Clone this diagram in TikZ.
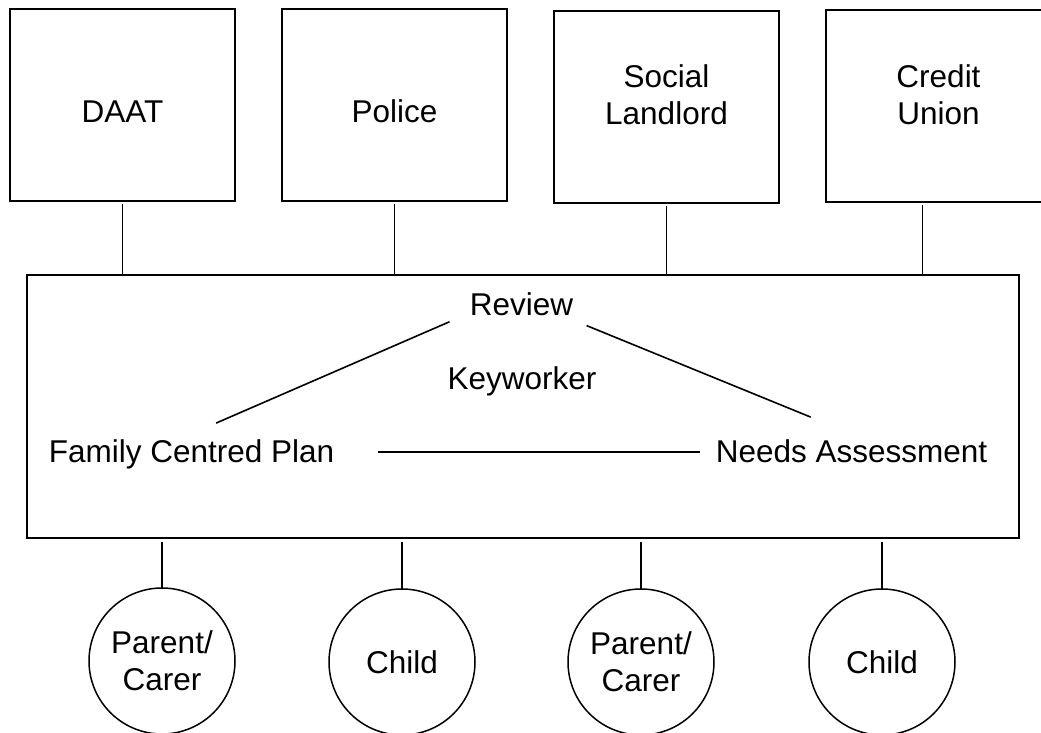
\documentclass[tikz,border=0pt]{standalone}
\usepackage{fontspec}
\setmainfont{Liberation Sans}
\begin{document}
\begin{tikzpicture}[x=0.5pt,y=-0.5pt,
    every node/.style={font=\fontsize{15.75}{18.5}\selectfont},
    agency/.style={draw,line width=1pt,minimum width=112.5pt,minimum height=96pt,outer sep=0pt},
    person/.style={draw,circle,line width=0.75pt,minimum size=73pt,inner sep=0pt,align=center,outer sep=0pt},
    lbl/.style={inner sep=3pt,anchor=base},
    link/.style={line width=0.8pt}]
  \useasboundingbox (0,0) rectangle (1041,733);
  % partner agencies
  \node[agency,label={[yshift=-3.5pt]center:DAAT}] (daat) at (122.5,105) {};
  \node[agency,label={[yshift=-3pt]center:Police}] (police) at (394.5,105.5) {};
  \node[agency,label={[yshift=6pt,align=center]center:Social\\Landlord}] (landlord) at (666.5,107) {};
  \node[agency,label={[yshift=6pt,align=center]center:Credit\\Union}] (credit) at (938.5,106.5) {};
  % keyworker box
  \node[draw,line width=1pt,minimum width=496pt,minimum height=131.5pt,outer sep=0pt] (hub) at (523,406.5) {};
  \node[lbl] (rev) at (521.5,316) {Review};
  \node[lbl] (kw) at (522,390) {Keyworker};
  \node[lbl] (fcp) at (191.5,463) {Family Centred Plan};
  \node[lbl] (na) at (851.5,463) {Needs Assessment};
  \draw[link,shorten <=7.6pt,shorten >=13.4pt] ([yshift=3.5pt]rev.south west) -- (fcp.north);
  \draw[link,shorten <=3.8pt,shorten >=22pt] (rev.south east) -- (na.north);
  \draw[link,shorten <=18.5pt,shorten >=4.5pt] (fcp.east |- na.west) -- (na.west);
  % family members
  \node[person] (pc1) at (162,661) {Parent/\\Carer};
  \node[person] (ch1) at (402,662) {Child};
  \node[person] (pc2) at (641,662) {Parent/\\Carer};
  \node[person] (ch2) at (882,662) {Child};
  % links
  \draw[link,shorten <=1.5pt] (daat) -- (daat |- hub.north);
  \draw[link,shorten <=1.5pt] (police) -- (police |- hub.north);
  \draw[link,shorten <=1.5pt] (landlord) -- (landlord |- hub.north);
  \coordinate (cu-foot) at ([xshift=-8pt]credit.south);
  \draw[link,shorten <=1.5pt] (cu-foot) -- (cu-foot |- hub.north);
  \foreach \p in {pc1,ch1,pc2,ch2}
    \draw[link,shorten <=2pt] (hub.south -| \p) -- (\p);
\end{tikzpicture}
\end{document}
